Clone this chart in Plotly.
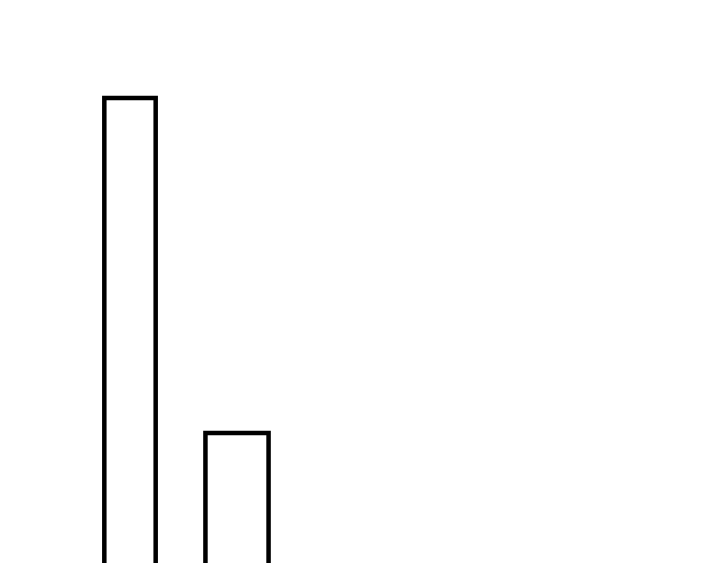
import plotly.graph_objects as go

# two outlined bars, the baseline sits below the visible area
categories = ["A", "B"]
values = [30, 10]
bar_widths = [0.48, 0.59]

fig = go.Figure(go.Bar(
    x=categories, y=values, width=bar_widths,
    marker=dict(color="white", line=dict(color="black", width=4.5)),
    hoverinfo="skip",
))

fig.update_layout(
    width=720, height=563,
    margin=dict(l=0, r=0, t=0, b=0, pad=0),
    paper_bgcolor="white", plot_bgcolor="white",
    showlegend=False,
)
fig.update_xaxes(visible=False, range=[-1.215, 5.514])
fig.update_yaxes(visible=False, range=[2.239, 35.851])

# drop the default page margin so the figure sits flush with the window
fig.write_html(
    "out.html",
    config={"displayModeBar": False},
    post_script="document.body.style.margin='0';document.body.style.overflow='hidden';",
)
